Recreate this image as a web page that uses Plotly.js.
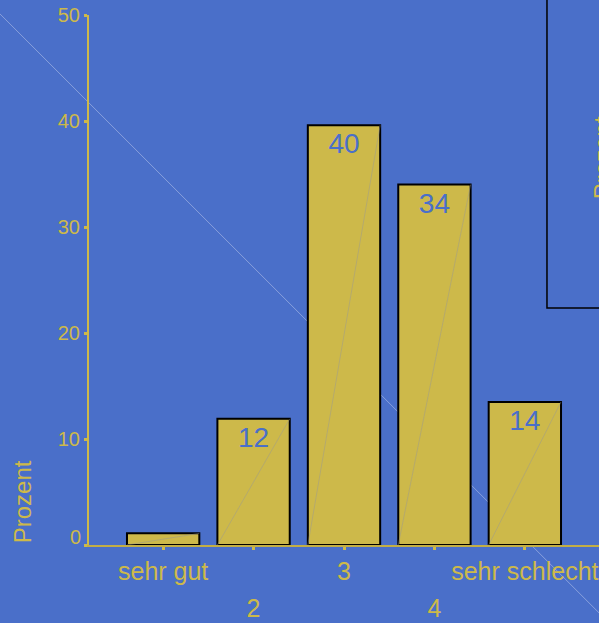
<!DOCTYPE html>
<html>
<head>
<meta charset="utf-8">
<script src="https://cdn.plot.ly/plotly-3.0.1.min.js"></script>
<style>html,body{margin:0;padding:0;background:#4a6fc9;}#chart{width:599px;height:623px;}</style>
</head>
<body>
<div id="chart"></div>
<script>
// Data
var categories = ['sehr gut', '2', '3', '4', 'sehr schlecht'];
var values = [1.1, 11.9, 39.6, 34.0, 13.5];
var barLabels = ['', '12', '40', '34', '14'];
var yTicks = [0, 10, 20, 30, 40, 50];

var BG = '#4a6fc9';
var YEL = '#cdb94a';
var FONT = 'Liberation Sans, Arial, sans-serif';
var BARW = 0.8;

var idx = categories.map(function (c, i) { return i; });
var row2Vals = idx.filter(function (i) { return i % 2 === 1; });

var traces = [{
  type: 'bar',
  x: idx,
  y: values,
  width: BARW,
  text: barLabels,
  textposition: 'inside',
  insidetextanchor: 'end',
  constraintext: 'none',
  textangle: 0,
  insidetextfont: {family: FONT, size: 28, color: BG},
  marker: {color: YEL, line: {color: '#000000', width: 2}},
  hoverinfo: 'none'
}, {
  type: 'scatter',
  x: row2Vals,
  y: row2Vals.map(function () { return null; }),
  xaxis: 'x2',
  yaxis: 'y2',
  mode: 'none',
  showlegend: false,
  hoverinfo: 'none'
}];

var shapes = [];
// faint diagonal across the whole figure
shapes.push({type: 'line', xref: 'paper', yref: 'paper', x0: -0.1745, y0: 1.002, x1: 1.0, y1: -0.128,
  line: {color: 'rgba(200,210,240,0.5)', width: 1}, layer: 'below'});
// diagonal inside each bar
idx.forEach(function (i) {
  shapes.push({type: 'line', xref: 'x', yref: 'y', x0: i - BARW / 2, y0: 0, x1: i + BARW / 2, y1: values[i],
    line: {color: 'rgba(150,150,150,0.45)', width: 1}, layer: 'above'});
});
// box at right
shapes.push({type: 'rect', xref: 'paper', yref: 'paper', x0: 0.898, y0: 0.447, x1: 1.3, y1: 1.2,
  line: {color: '#000000', width: 1.5}, fillcolor: 'rgba(0,0,0,0)'});

var layout = {
  width: 599, height: 623,
  margin: {l: 89, r: 0, t: 15, b: 78},
  paper_bgcolor: BG, plot_bgcolor: BG,
  showlegend: false,
  font: {family: FONT, color: YEL},
  xaxis: {
    range: [-0.82, 4.82], tickmode: 'array', tickvals: idx,
    ticktext: idx.map(function (i) { return i % 2 === 0 ? categories[i] : ''; }),
    tickfont: {family: FONT, size: 25, color: YEL},
    showgrid: false, zeroline: false, showline: true, linecolor: '#c2ae45', linewidth: 2,
    ticks: 'outside', ticklen: 3, tickwidth: 3, tickcolor: YEL, fixedrange: true
  },
  xaxis2: {
    overlaying: 'x', anchor: 'y', side: 'bottom',
    range: [-0.82, 4.82], tickmode: 'array', tickvals: row2Vals,
    ticktext: row2Vals.map(function (i) { return categories[i]; }),
    tickfont: {family: FONT, size: 25, color: YEL},
    showgrid: false, zeroline: false, showline: false, ticks: '',
    ticklabelstandoff: 46, fixedrange: true
  },
  yaxis: {
    range: [0, 50], tickmode: 'array', tickvals: yTicks,
    ticktext: yTicks.map(function (v) { return v === 0 ? '' : String(v); }),
    tickfont: {family: FONT, size: 20, color: YEL},
    showgrid: false, zeroline: false, showline: true, linecolor: YEL, linewidth: 2,
    ticks: 'outside', ticklen: 3, tickwidth: 3, tickcolor: YEL, fixedrange: true
  },
  yaxis2: {
    overlaying: 'y', anchor: 'x', side: 'left',
    range: [0, 50], tickmode: 'array', tickvals: [yTicks[0]], ticktext: [String(yTicks[0])],
    tickfont: {family: FONT, size: 20, color: YEL},
    showgrid: false, zeroline: false, showline: false, ticks: 'outside', ticklen: 3, tickcolor: 'rgba(0,0,0,0)',
    ticklabelshift: -8, fixedrange: true
  },
  shapes: shapes,
  annotations: [{
    text: 'Prozent', xref: 'paper', yref: 'paper', x: -0.131, y: 0.081,
    textangle: -90, showarrow: false, xanchor: 'center', yanchor: 'middle',
    font: {family: FONT, size: 24, color: YEL}
  }, {
    text: 'Prozent', xref: 'paper', yref: 'paper', x: 1.006, y: 0.73,
    textangle: -90, showarrow: false, xanchor: 'center', yanchor: 'middle',
    font: {family: FONT, size: 24, color: YEL}
  }]
};

Plotly.newPlot('chart', traces, layout, {displayModeBar: false, staticPlot: true});
</script>
</body>
</html>
